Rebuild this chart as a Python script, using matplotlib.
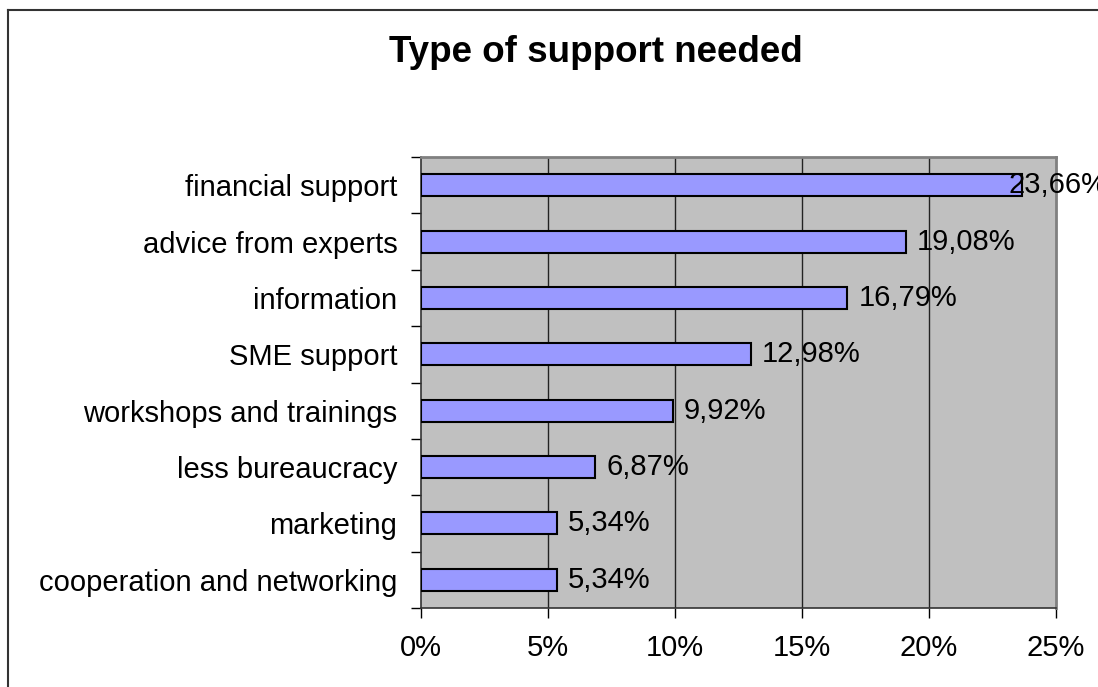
import numpy as np
import matplotlib.pyplot as plt
from matplotlib.lines import Line2D

plt.rcParams['font.family'] = ['Liberation Sans', 'DejaVu Sans']

categories = ["financial support", "advice from experts", "information", "SME support",
              "workshops and trainings", "less bureaucracy", "marketing",
              "cooperation and networking"]
values = [23.66, 19.08, 16.79, 12.98, 9.92, 6.87, 5.34, 5.34]
x_ticks = [0, 5, 10, 15, 20, 25]

fig = plt.figure(figsize=(10.98, 6.87), dpi=100)
ax = fig.add_axes([421 / 1098, 1 - 608 / 687, 635 / 1098, 451 / 687])

n = len(categories)
ypos = np.arange(n)[::-1]
ax.barh(ypos, values, height=0.39, color='#9999FF', edgecolor='black', linewidth=1.5, zorder=3)

ax.set_facecolor('#C0C0C0')
ax.set_xlim(0, 25)
ax.set_ylim(-0.5, n - 0.5)

# vertical gridlines
for xv in x_ticks[1:-1]:
    ax.axvline(xv, color='#222222', linewidth=1, zorder=1)

ax.set_xticks(x_ticks)
ax.set_xticklabels([f"{v}%" for v in x_ticks])
ax.tick_params(axis='x', direction='out', length=7, width=1, pad=12, labelsize=21)

# category labels at bar centers, tick marks at category boundaries
ax.set_yticks(ypos)
ax.set_yticklabels(categories)
ax.tick_params(axis='y', which='major', length=0, pad=17, labelsize=21)
ax.set_yticks(np.arange(n + 1) - 0.5, minor=True)
ax.tick_params(axis='y', which='minor', direction='out', length=7, width=1)

for side in ['top', 'right']:
    ax.spines[side].set_color('#808080')
    ax.spines[side].set_linewidth(2)
for side in ['left', 'bottom']:
    ax.spines[side].set_color('#333333')
    ax.spines[side].set_linewidth(1.2)

# value labels; the longest one is pulled back so it stays near the frame
for y, v in zip(ypos, values):
    off = -13 if v == max(values) else 11
    ax.annotate(f"{v:.2f}%".replace('.', ','), (v, y), xytext=(off, 0),
                textcoords='offset pixels', va='center', ha='left',
                fontsize=21, zorder=4, annotation_clip=False)

fig.text(595.5 / 1098, 1 - 62 / 687, "Type of support needed", ha='center', va='baseline',
         fontsize=26.5, fontweight='bold')

# chart border (top and left edges)
fig.add_artist(Line2D([8 / 1098, 8 / 1098], [0, 1 - 10 / 687], color='#333333',
                      linewidth=1.5, transform=fig.transFigure))
fig.add_artist(Line2D([8 / 1098, 1], [1 - 10 / 687, 1 - 10 / 687], color='#333333',
                      linewidth=1.5, transform=fig.transFigure))

fig.savefig('out.png', dpi=100)
